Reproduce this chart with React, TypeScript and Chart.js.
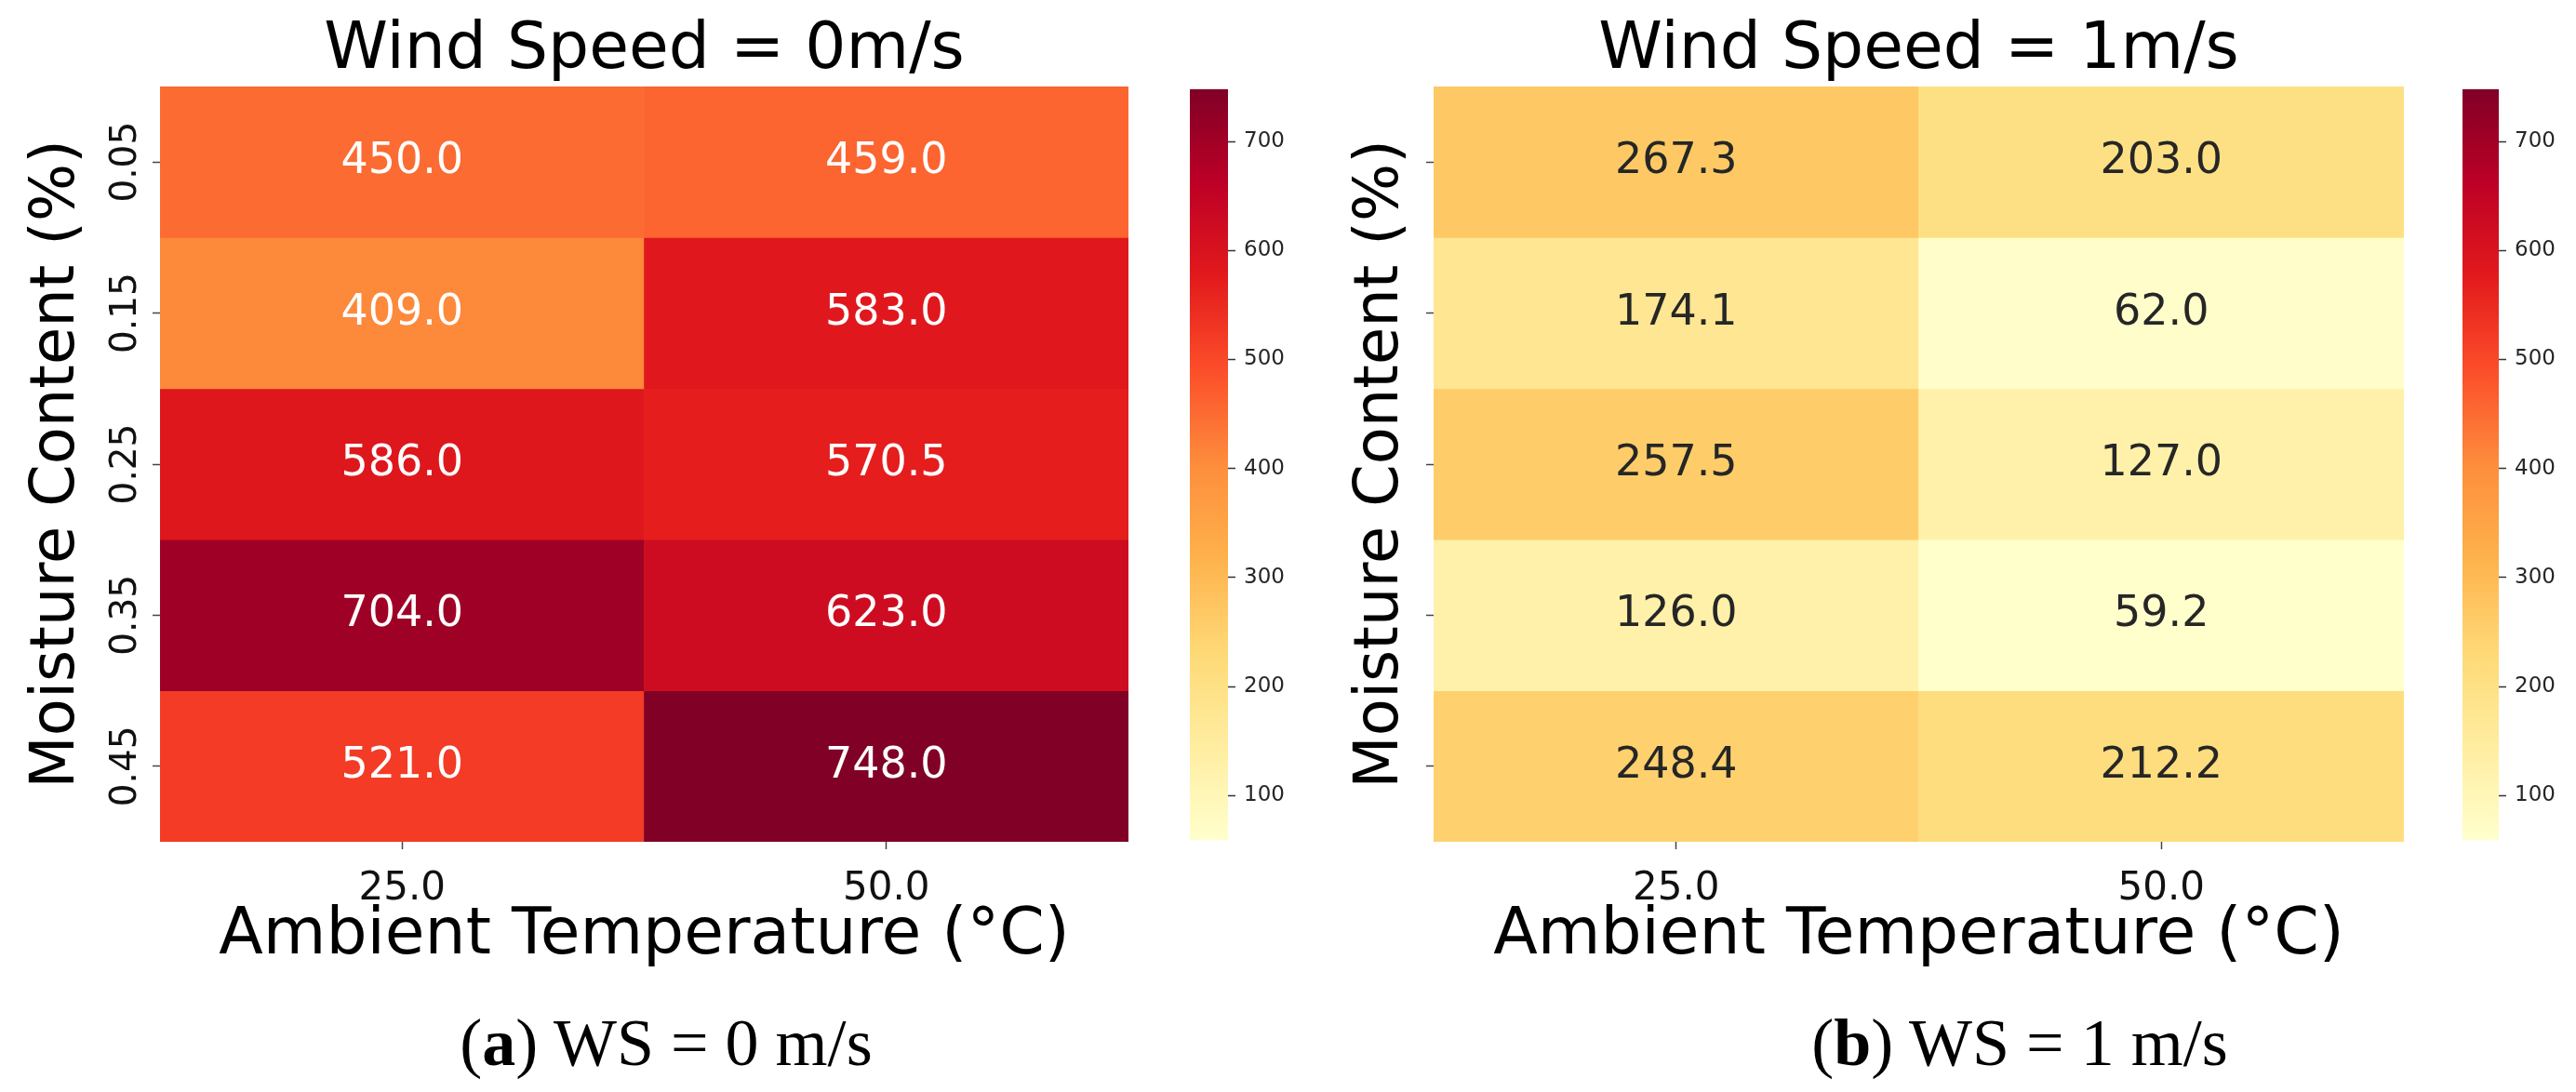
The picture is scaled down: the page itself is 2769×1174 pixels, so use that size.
import React, { useEffect, useRef } from "react";
import { Chart, registerables } from "chart.js";

Chart.register(...registerables);

// ---------- data ----------
const TEMPERATURES = ["25.0", "50.0"];
const MOISTURE = ["0.05", "0.15", "0.25", "0.35", "0.45"];
const WS0_T25 = [450.0, 409.0, 586.0, 704.0, 521.0];
const WS0_T50 = [459.0, 583.0, 570.5, 623.0, 748.0];
const WS1_T25 = [267.3, 174.1, 257.5, 126.0, 248.4];
const WS1_T50 = [203.0, 62.0, 127.0, 59.2, 212.2];
const VMIN = 59.2;
const VMAX = 748.0;
const COLORBAR_TICKS = [100, 200, 300, 400, 500, 600, 700];
const YLORRD = [
  "#ffffcc",
  "#ffeda0",
  "#fed976",
  "#feb24c",
  "#fd8d3c",
  "#fc4e2a",
  "#e31a1c",
  "#bd0026",
  "#800026",
];

const FONT = '"DejaVu Sans", sans-serif';

function hexToRgb(h: string): number[] {
  return [parseInt(h.slice(1, 3), 16), parseInt(h.slice(3, 5), 16), parseInt(h.slice(5, 7), 16)];
}
const STOPS = YLORRD.map(hexToRgb);

function colorRgb(v: number): number[] {
  let t = (v - VMIN) / (VMAX - VMIN);
  t = Math.max(0, Math.min(1, t));
  const pos = t * (STOPS.length - 1);
  const i = Math.min(STOPS.length - 2, Math.floor(pos));
  const f = pos - i;
  const a = STOPS[i];
  const b = STOPS[i + 1];
  return [0, 1, 2].map((k) => Math.round(a[k] + (b[k] - a[k]) * f));
}
function colorCss(v: number): string {
  const c = colorRgb(v);
  return `rgb(${c[0]},${c[1]},${c[2]})`;
}
function textColorFor(v: number): string {
  const c = colorRgb(v).map((x) => {
    const s = x / 255;
    return s <= 0.03928 ? s / 12.92 : Math.pow((s + 0.055) / 1.055, 2.4);
  });
  const lum = 0.2126 * c[0] + 0.7152 * c[1] + 0.0722 * c[2];
  return lum > 0.408 ? "#262626" : "#ffffff";
}

type HeatmapProps = {
  title: string;
  columns: number[][];
  left: number;
  width: number;
  rightPad: number;
  yAxisWidth: number;
  yTitlePad: number;
  showYTickLabels: boolean;
};

const PANEL_H = 1060;

function Heatmap(p: HeatmapProps) {
  const ref = useRef<HTMLCanvasElement>(null);
  useEffect(() => {
    if (!ref.current) return;
    const datasets = MOISTURE.map((m, r) => ({
      label: m,
      data: TEMPERATURES.map(() => [r, r + 1]),
      backgroundColor: TEMPERATURES.map((_, c) => colorCss(p.columns[c][r])),
      borderWidth: 0,
      grouped: false,
      barPercentage: 1,
      categoryPercentage: 1,
    }));

    const annotate = {
      id: "annotate",
      afterDatasetsDraw(chart: any) {
        const ctx = chart.ctx;
        ctx.save();
        ctx.font = `46px ${FONT}`;
        ctx.textAlign = "center";
        ctx.textBaseline = "middle";
        chart.data.datasets.forEach((_: any, r: number) => {
          const meta = chart.getDatasetMeta(r);
          meta.data.forEach((el: any, c: number) => {
            const v = p.columns[c][r];
            const pt = el.getCenterPoint();
            ctx.fillStyle = textColorFor(v);
            ctx.fillText(v.toFixed(1), pt.x, pt.y);
          });
        });
        ctx.restore();
      },
    };

    const yTickLabels = {
      id: "yTickLabels",
      afterDraw(chart: any) {
        if (!p.showYTickLabels) return;
        const ctx = chart.ctx;
        const ys = chart.scales.y;
        const size = 39;
        ctx.save();
        ctx.font = `${size}px ${FONT}`;
        ctx.fillStyle = "#111";
        ctx.textAlign = "center";
        ctx.textBaseline = "alphabetic";
        const centerX = chart.chartArea.left - 40;
        ys.ticks.forEach((t: any, i: number) => {
          const y = ys.getPixelForValue(t.value);
          ctx.save();
          ctx.translate(centerX + 0.364 * size, y);
          ctx.rotate(-Math.PI / 2);
          ctx.fillText(MOISTURE[i], 0, 0);
          ctx.restore();
        });
        ctx.restore();
      },
    };

    const gridOpts = {
      display: true,
      drawOnChartArea: false,
      drawTicks: true,
      tickLength: 8,
      offset: false,
      tickColor: "#444",
      tickWidth: 1.5,
    };

    const chart = new Chart(ref.current, {
      type: "bar",
      data: { labels: TEMPERATURES, datasets: datasets as any },
      options: {
        animation: false,
        responsive: false,
        devicePixelRatio: 1,
        layout: { padding: { left: 0, right: p.rightPad, top: 0, bottom: 0 } },
        plugins: {
          legend: { display: false },
          tooltip: { enabled: false },
          title: {
            display: true,
            text: p.title,
            fullSize: false,
            color: "#000",
            font: { family: FONT, size: 69.5, weight: "normal", lineHeight: 1.08 },
            padding: { top: 17.5, bottom: 0.44 },
          },
        },
        scales: {
          x: {
            type: "category",
            offset: true,
            grid: gridOpts,
            border: { display: false },
            ticks: {
              color: "#111",
              font: { family: FONT, size: 42, lineHeight: 1.2 },
              padding: 18,
              maxRotation: 0,
              autoSkip: false,
            },
            title: {
              display: true,
              text: "Ambient Temperature (°C)",
              color: "#000",
              font: { family: FONT, size: 69.5, lineHeight: 1.2 },
              padding: { top: 0, bottom: 11.3 },
            },
            afterFit: (s: any) => {
              s.height = 155;
            },
          },
          y: {
            type: "linear",
            min: 0,
            max: MOISTURE.length,
            reverse: true,
            afterBuildTicks: (s: any) => {
              s.ticks = MOISTURE.map((_, i) => ({ value: i + 0.5 }));
            },
            ticks: { display: false, autoSkip: false },
            grid: gridOpts,
            border: { display: false },
            title: {
              display: true,
              text: "Moisture Content (%)",
              color: "#000",
              font: { family: FONT, size: 65.5, lineHeight: 1.2 },
              padding: { top: p.yTitlePad, bottom: 0 },
            },
            afterFit: (s: any) => {
              s.width = p.yAxisWidth;
            },
          },
        },
      } as any,
      plugins: [annotate, yTickLabels],
    });
    return () => chart.destroy();
  }, []);
  return (
    <canvas
      ref={ref}
      width={p.width}
      height={PANEL_H}
      style={{ position: "absolute", left: p.left, top: 0, width: p.width, height: PANEL_H }}
    />
  );
}

type ColorbarProps = { left: number; width: number; barWidth: number };

function Colorbar(p: ColorbarProps) {
  const ref = useRef<HTMLCanvasElement>(null);
  const TOP = 73;
  const H = 853;
  useEffect(() => {
    if (!ref.current) return;
    const chart = new Chart(ref.current, {
      type: "bar",
      data: {
        labels: [""],
        datasets: [
          {
            data: [[VMIN, VMAX]] as any,
            backgroundColor: (c: any) => {
              const ch = c.chart;
              if (!ch.chartArea) return YLORRD[0];
              const y = ch.scales.y;
              const g = ch.ctx.createLinearGradient(0, y.getPixelForValue(VMIN), 0, y.getPixelForValue(VMAX));
              YLORRD.forEach((col, i) => g.addColorStop(i / (YLORRD.length - 1), col));
              return g;
            },
            borderWidth: 0,
            barPercentage: 1,
            categoryPercentage: 1,
          },
        ],
      },
      options: {
        animation: false,
        responsive: false,
        devicePixelRatio: 1,
        layout: { padding: { top: 20, bottom: 20, left: 0, right: 0 } },
        plugins: { legend: { display: false }, tooltip: { enabled: false } },
        scales: {
          x: { display: false },
          y: {
            type: "linear",
            position: "right",
            min: VMIN,
            max: VMAX,
            afterBuildTicks: (s: any) => {
              s.ticks = COLORBAR_TICKS.map((v) => ({ value: v }));
            },
            ticks: { color: "#262626", font: { family: FONT, size: 23 }, padding: 9 },
            grid: { display: true, drawOnChartArea: false, tickLength: 8, tickColor: "#333", tickWidth: 1.5 },
            border: { display: false },
            afterFit: (s: any) => {
              s.width = p.width - p.barWidth;
            },
          },
        },
      } as any,
    });
    return () => chart.destroy();
  }, []);
  return (
    <canvas
      ref={ref}
      width={p.width}
      height={H}
      style={{ position: "absolute", left: p.left, top: TOP, width: p.width, height: H }}
    />
  );
}

const captionStyle: React.CSSProperties = {
  position: "absolute",
  top: 1085,
  transform: "translateX(-50%)",
  fontFamily: '"Liberation Serif", serif',
  fontSize: 72,
  lineHeight: 1,
  whiteSpace: "nowrap",
  color: "#000",
};

export default function App() {
  return (
    <div
      style={{
        position: "absolute",
        left: 0,
        top: 0,
        width: 2769,
        height: 1174,
        background: "#fff",
        overflow: "hidden",
      }}
    >
      <Heatmap
        title="Wind Speed = 0m/s"
        columns={[WS0_T25, WS0_T50]}
        left={0}
        width={1240}
        rightPad={27}
        yAxisWidth={172}
        yTitlePad={22.7}
        showYTickLabels={true}
      />
      <Colorbar left={1279} width={130} barWidth={41} />
      <Heatmap
        title="Wind Speed = 1m/s"
        columns={[WS1_T25, WS1_T50]}
        left={1400}
        width={1200}
        rightPad={16}
        yAxisWidth={141}
        yTitlePad={45.7}
        showYTickLabels={false}
      />
      <Colorbar left={2647} width={122} barWidth={39} />
      <div style={{ ...captionStyle, left: 716 }}>
        (<b>a</b>) WS = 0 m/s
      </div>
      <div style={{ ...captionStyle, left: 2171 }}>
        (<b>b</b>) WS = 1 m/s
      </div>
    </div>
  );
}
